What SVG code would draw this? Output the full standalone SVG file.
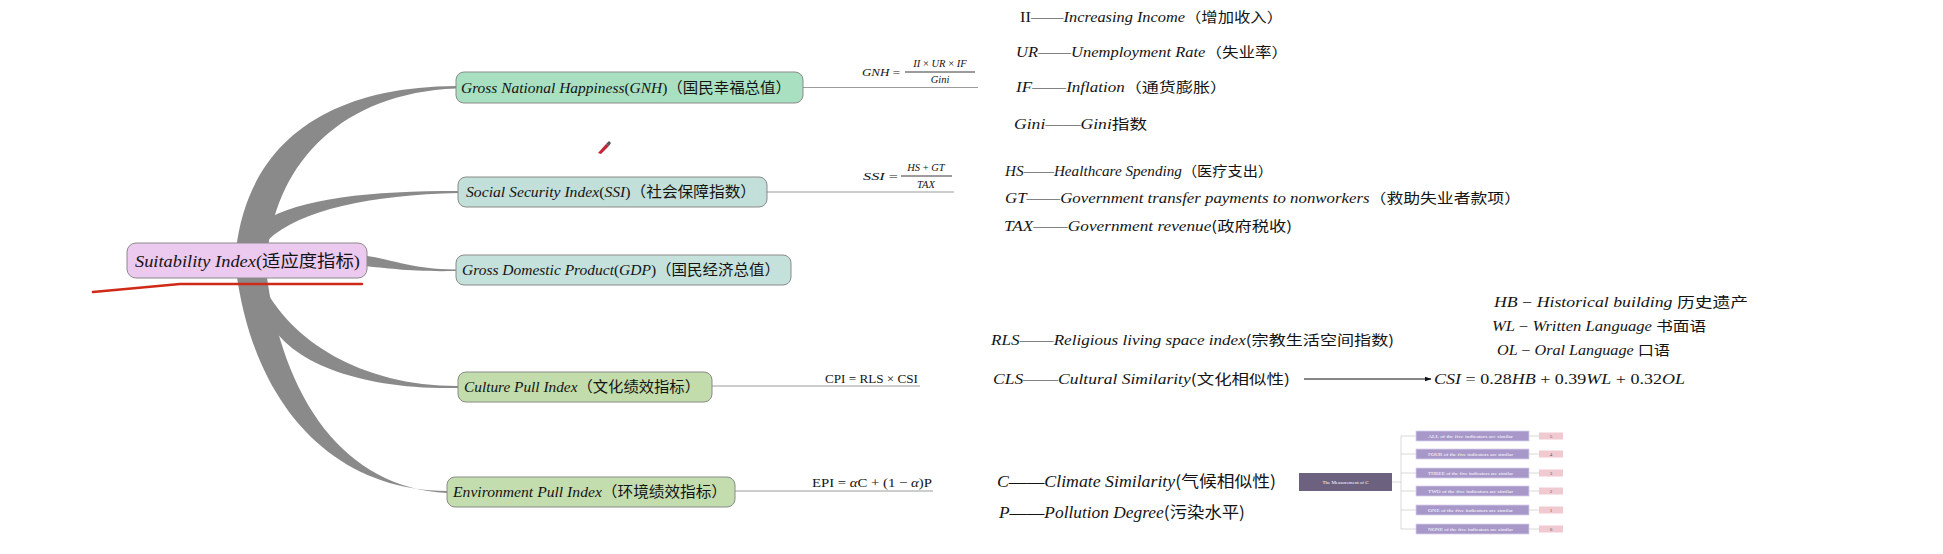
<svg xmlns="http://www.w3.org/2000/svg" width="1943" height="554" viewBox="0 0 1943 554">
<style>
.box{stroke:#8a8a8a;stroke-width:1}
.t{font-family:"Liberation Serif","Noto Sans CJK SC",serif;font-style:italic;fill:#141414}
.u{font-style:normal}
.cn{font-family:"Noto Sans CJK SC",sans-serif;font-style:normal}
.br{fill:#8a8a8a}
.fl{stroke:#9c9c9c;stroke-width:1.2;fill:none}
.m{font-family:"Liberation Serif",serif;fill:#fff;font-size:5px}
.sub{fill:#a798c9;stroke:#d8d0ea;stroke-width:0.8}
.pk{fill:#f1c9d1}
.ml{stroke:#cfcfcf;stroke-width:0.8;fill:none}
</style>
<defs>
<marker id="ah" viewBox="0 0 10 10" refX="9" refY="5" markerWidth="7" markerHeight="7" orient="auto" markerUnits="userSpaceOnUse">
<path d="M0,1.5 L10,5 L0,8.5 Z" fill="#111"/>
</marker>
</defs>
<rect width="1943" height="554" fill="#ffffff"/>

<g id="connectors">
<path class="br" d="M236 250 C248 148 320 87 456 86 L456 88.5 C342 93 278 162 268 250 Z"/>
<path class="br" d="M262 222 C300 198 370 191 459 191 L459 193 C370 195 300 210 268 240 Z"/>
<path class="br" d="M362 255 C400 261 410 269 456 269.5 L456 271 C410 272 390 268 362 266 Z"/>
<path class="br" d="M262 283 C290 340 360 386 458 386 L458 388 C360 390 290 362 270 322 Z"/>
<path class="br" d="M236 270 C253 402 330 490 447 491 L447 493 C345 488 282 400 266 270 Z"/>
<line class="fl" x1="803" y1="87.5" x2="978" y2="87.5"/>
<line class="fl" x1="767" y1="192" x2="954" y2="192"/>
<line class="fl" x1="712" y1="386" x2="920" y2="386"/>
<line class="fl" x1="735" y1="491" x2="933" y2="491"/>
<line x1="1304" y1="379" x2="1431" y2="379" stroke="#111" stroke-width="1.2" marker-end="url(#ah)"/>
</g>

<g id="root">
<rect class="box" x="127" y="243" width="240" height="35" rx="9" fill="#ecc9ee"/>
<text class="t" x="135" y="267" font-size="17" textLength="225" lengthAdjust="spacingAndGlyphs">Suitability Index<tspan class="u">(</tspan><tspan class="cn">适应度指标</tspan><tspan class="u">)</tspan></text>
</g>

<path d="M93 292 L180 284 L362 284" fill="none" stroke="#cf2a18" stroke-width="2.6" stroke-linejoin="round" stroke-linecap="round"/>

<g id="gnh">
<rect class="box" x="456" y="72" width="347" height="31" rx="8" fill="#a9e0c2"/>
<text class="t" x="461" y="93" font-size="15" textLength="330" lengthAdjust="spacingAndGlyphs">Gross National Happiness<tspan class="u">(</tspan>GNH<tspan class="u">)</tspan><tspan class="cn">（国民幸福总值）</tspan></text>
</g>
<g id="ssi">
<rect class="box" x="458" y="177" width="309" height="30" rx="8" fill="#c2dfd9"/>
<text class="t" x="466" y="197" font-size="15" textLength="290" lengthAdjust="spacingAndGlyphs">Social Security Index<tspan class="u">(</tspan>SSI<tspan class="u">)</tspan><tspan class="cn">（社会保障指数）</tspan></text>
</g>
<g id="gdp">
<rect class="box" x="456" y="255" width="335" height="30" rx="8" fill="#c5e1dc"/>
<text class="t" x="462" y="275" font-size="15" textLength="318" lengthAdjust="spacingAndGlyphs">Gross Domestic Product<tspan class="u">(</tspan>GDP<tspan class="u">)</tspan><tspan class="cn">（国民经济总值）</tspan></text>
</g>
<g id="cpi">
<rect class="box" x="458" y="372" width="254" height="30" rx="8" fill="#c2dcab"/>
<text class="t" x="464" y="392" font-size="15" textLength="236" lengthAdjust="spacingAndGlyphs">Culture Pull Index<tspan class="cn">（文化绩效指标）</tspan></text>
</g>
<g id="epi">
<rect class="box" x="447" y="477" width="288" height="30" rx="8" fill="#c4ddaf"/>
<text class="t" x="453" y="497" font-size="15" textLength="274" lengthAdjust="spacingAndGlyphs">Environment Pull Index<tspan class="cn">（环境绩效指标）</tspan></text>
</g>

<g id="cursor">
<path d="M598 153 L606 144 L609 146 L601 154 Z" fill="#c0283a"/>
<path d="M606 144 L609 141 L611 143 L609 146 Z" fill="#555"/>
</g>

<g id="gnh-formula">
<text class="t" x="862" y="76" font-size="11" textLength="38" lengthAdjust="spacingAndGlyphs">GNH <tspan class="u">=</tspan></text>
<text class="t" x="940" y="67" font-size="10.5" text-anchor="middle">II <tspan class="u">×</tspan> UR <tspan class="u">×</tspan> IF</text>
<line x1="905" y1="72" x2="975" y2="72" stroke="#222" stroke-width="0.9"/>
<text class="t" x="940" y="83" font-size="10.5" text-anchor="middle">Gini</text>
</g>
<g id="ssi-formula">
<text class="t" x="863" y="180" font-size="11" textLength="35" lengthAdjust="spacingAndGlyphs">SSI <tspan class="u">=</tspan></text>
<text class="t" x="926" y="171" font-size="10.5" text-anchor="middle">HS <tspan class="u">+</tspan> GT</text>
<line x1="901" y1="176" x2="952" y2="176" stroke="#222" stroke-width="0.9"/>
<text class="t" x="926" y="188" font-size="10.5" text-anchor="middle">TAX</text>
</g>
<g id="cpi-formula">
<text class="t u" x="825" y="383" font-size="12.5" textLength="93" lengthAdjust="spacingAndGlyphs">CPI = RLS × CSI</text>
</g>
<g id="epi-formula">
<text class="t u" x="812" y="487" font-size="12.5" textLength="120" lengthAdjust="spacingAndGlyphs">EPI = <tspan font-style="italic">α</tspan>C + (1 − <tspan font-style="italic">α</tspan>)P</text>
</g>

<g id="gnh-defs">
<text class="t" x="1020" y="22" font-size="14" textLength="263" lengthAdjust="spacingAndGlyphs"><tspan class="u">II——</tspan>Increasing Income<tspan class="cn">（增加收入）</tspan></text>
<text class="t" x="1016" y="57" font-size="14" textLength="272" lengthAdjust="spacingAndGlyphs">UR<tspan class="u">——</tspan>Unemployment Rate<tspan class="cn">（失业率）</tspan></text>
<text class="t" x="1016" y="92" font-size="14" textLength="211" lengthAdjust="spacingAndGlyphs">IF<tspan class="u">——</tspan>Inflation<tspan class="cn">（通货膨胀）</tspan></text>
<text class="t" x="1014" y="129" font-size="14" textLength="133" lengthAdjust="spacingAndGlyphs">Gini<tspan class="u">——</tspan>Gini<tspan class="cn">指数</tspan></text>
</g>
<g id="ssi-defs">
<text class="t" x="1005" y="176" font-size="14" textLength="268" lengthAdjust="spacingAndGlyphs">HS<tspan class="u">——</tspan>Healthcare Spending<tspan class="cn">（医疗支出）</tspan></text>
<text class="t" x="1005" y="203" font-size="14" textLength="516" lengthAdjust="spacingAndGlyphs">GT<tspan class="u">——</tspan>Government transfer payments to nonworkers<tspan class="cn">（救助失业者款项）</tspan></text>
<text class="t" x="1004" y="231" font-size="14" textLength="288" lengthAdjust="spacingAndGlyphs">TAX<tspan class="u">——</tspan>Government revenue<tspan class="cn">(政府税收)</tspan></text>
</g>
<g id="cpi-defs">
<text class="t" x="991" y="345" font-size="14" textLength="403" lengthAdjust="spacingAndGlyphs">RLS<tspan class="u">——</tspan>Religious living space index<tspan class="cn">(宗教生活空间指数)</tspan></text>
<text class="t" x="993" y="384" font-size="14" textLength="297" lengthAdjust="spacingAndGlyphs">CLS<tspan class="u">——</tspan>Cultural Similarity<tspan class="cn">(文化相似性)</tspan></text>
<text class="t" x="1434" y="384" font-size="15" textLength="251" lengthAdjust="spacingAndGlyphs">CSI<tspan class="u"> = 0.28</tspan>HB<tspan class="u"> + 0.39</tspan>WL<tspan class="u"> + 0.32</tspan>OL</text>
<text class="t" x="1494" y="307" font-size="14" textLength="254" lengthAdjust="spacingAndGlyphs">HB <tspan class="u">−</tspan> Historical building <tspan class="cn">历史遗产</tspan></text>
<text class="t" x="1492" y="331" font-size="14" textLength="214" lengthAdjust="spacingAndGlyphs">WL <tspan class="u">−</tspan> Written Language <tspan class="cn">书面语</tspan></text>
<text class="t" x="1497" y="355" font-size="14" textLength="173" lengthAdjust="spacingAndGlyphs">OL <tspan class="u">−</tspan> Oral Language <tspan class="cn">口语</tspan></text>
</g>
<g id="epi-defs">
<text class="t" x="997" y="487" font-size="16" textLength="279" lengthAdjust="spacingAndGlyphs">C<tspan class="u">——</tspan>Climate Similarity<tspan class="cn">(气候相似性)</tspan></text>
<text class="t" x="999" y="518" font-size="16" textLength="246" lengthAdjust="spacingAndGlyphs">P<tspan class="u">——</tspan>Pollution Degree<tspan class="cn">(污染水平)</tspan></text>
</g>

<g id="measurement">
<path class="ml" d="M1392 482 H1401 M1401 436 V529 M1401 436 H1416 M1401 454 H1416 M1401 473 H1416 M1401 491 H1416 M1401 510 H1416 M1401 529 H1416"/>
<path class="ml" d="M1529 436 H1539 M1529 454 H1539 M1529 473 H1539 M1529 491 H1539 M1529 510 H1539 M1529 529 H1539"/>
<rect x="1299" y="473" width="93" height="18" fill="#6d6180"/>
<text class="m" x="1345.5" y="484" text-anchor="middle" font-size="6">The Measurement of C</text>
<rect class="sub" x="1416" y="431" width="113" height="10"/>
<rect class="sub" x="1416" y="449" width="113" height="10"/>
<rect class="sub" x="1416" y="468" width="113" height="10"/>
<rect class="sub" x="1416" y="486" width="113" height="10"/>
<rect class="sub" x="1416" y="505" width="113" height="10"/>
<rect class="sub" x="1416" y="524" width="113" height="10"/>
<text class="m" x="1428" y="438" textLength="85" lengthAdjust="spacingAndGlyphs">ALL of the five indicators are similar</text>
<text class="m" x="1428" y="456" textLength="85" lengthAdjust="spacingAndGlyphs">FOUR of the five indicators are similar</text>
<text class="m" x="1428" y="475" textLength="85" lengthAdjust="spacingAndGlyphs">THREE of the five indicators are similar</text>
<text class="m" x="1428" y="493" textLength="85" lengthAdjust="spacingAndGlyphs">TWO of the five indicators are similar</text>
<text class="m" x="1428" y="512" textLength="85" lengthAdjust="spacingAndGlyphs">ONE of the five indicators are similar</text>
<text class="m" x="1428" y="531" textLength="85" lengthAdjust="spacingAndGlyphs">NONE of the five indicators are similar</text>
<rect class="pk" x="1539" y="432.5" width="24" height="7"/>
<rect class="pk" x="1539" y="450.5" width="24" height="7"/>
<rect class="pk" x="1539" y="469.5" width="24" height="7"/>
<rect class="pk" x="1539" y="487.5" width="24" height="7"/>
<rect class="pk" x="1539" y="506.5" width="24" height="7"/>
<rect class="pk" x="1539" y="525.5" width="24" height="7"/>
<g font-family="Liberation Serif,serif" font-size="5" fill="#555" text-anchor="middle">
<text x="1551" y="438">5</text>
<text x="1551" y="456">4</text>
<text x="1551" y="475">3</text>
<text x="1551" y="493">2</text>
<text x="1551" y="512">1</text>
<text x="1551" y="531">0</text>
</g>
</g>
</svg>
